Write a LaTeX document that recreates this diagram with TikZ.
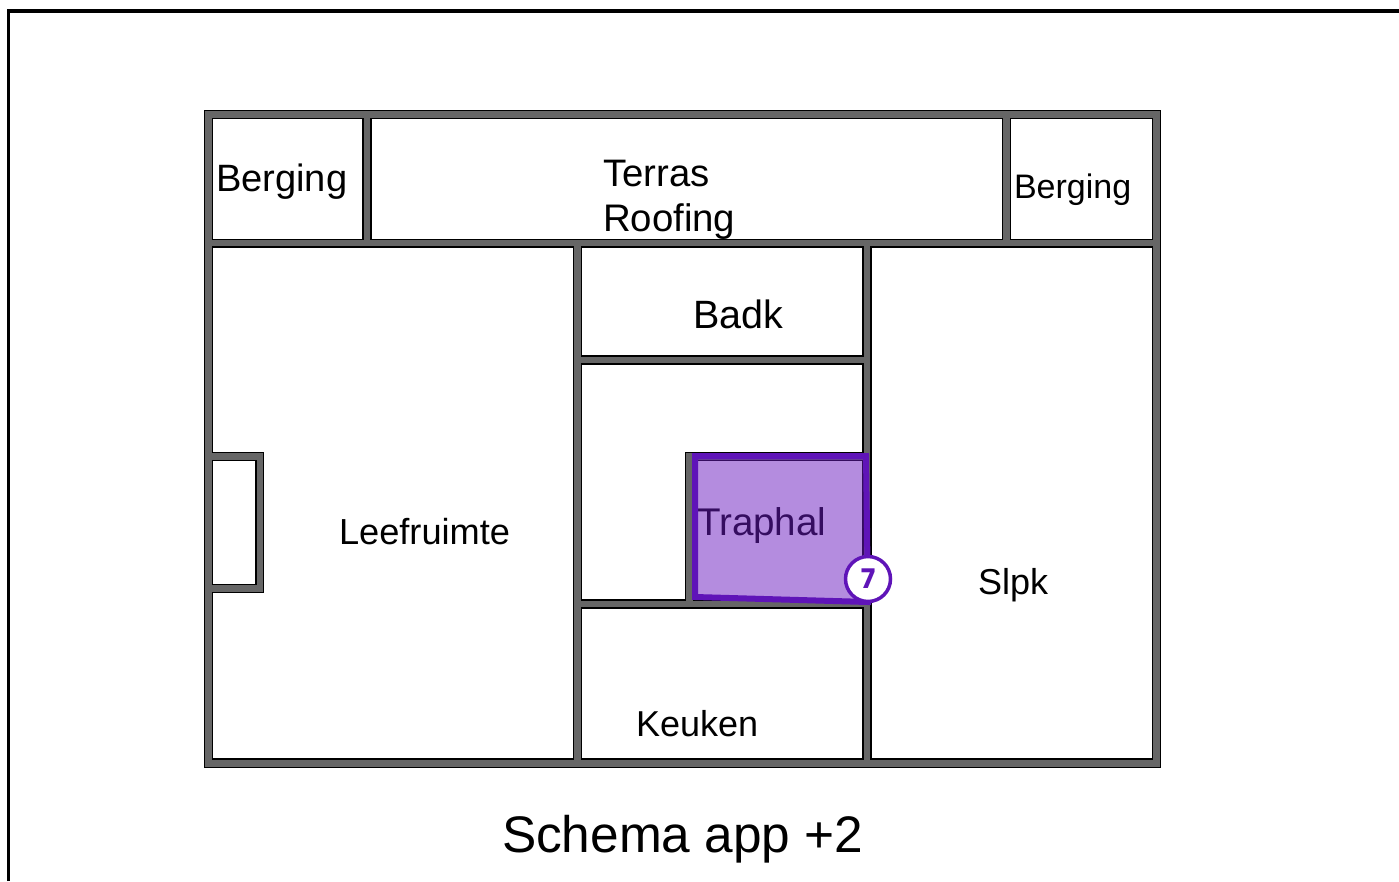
\documentclass[tikz,border=0pt]{standalone}
\usepackage{fontspec}
\setmainfont{Liberation Sans}
\newfontfamily\badgefont{Poppins}
\definecolor{wall}{HTML}{666666}
\definecolor{zone}{HTML}{6A1BC0}
\definecolor{zoneline}{HTML}{5F14B8}
\tikzset{
  wallmass/.style={fill=wall,draw=black,line width=1.1pt},
  room/.style={fill=white,draw=black,line width=1.1pt,line join=miter},
  lbl/.style={anchor=base west,inner sep=0pt,outer sep=0pt,text=black},
  zonearea/.style={fill=zone,fill opacity=0.5,draw=none},
  zoneedge/.style={draw=zoneline,line width=6pt,line join=miter},
  badge/.style={circle,fill=white,draw=zoneline,line width=3.5pt,minimum size=45pt,inner sep=0pt,text=zoneline,font=\fontsize{27}{27}\selectfont\badgefont\bfseries}
}
\begin{document}
\begin{tikzpicture}[x=1pt,y=-1pt]
\useasboundingbox (0,0) rectangle (1399,881);
\fill[white] (0,0) rectangle (1399,881);
\draw[black,line width=3.2pt] (8.5,881) -- (8.5,11) -- (1399,11);
% walls
\path[wallmass] (204.5,110.5) rectangle (1160.5,767.5);
% rooms
\path[room] (212.5,118.5) rectangle (363,239.5);
\path[room] (371,118.5) rectangle (1002.5,239.5);
\path[room] (1010.5,118.5) rectangle (1152.5,239.5);
\path[room] (212.5,247) -- (573.5,247) -- (573.5,759) -- (212.5,759) -- (212.5,592.5) -- (263.5,592.5) -- (263.5,452.5) -- (212.5,452.5) -- cycle;
\path[room] (212.5,460.5) rectangle (256,584.5);
\path[room] (581.5,247) rectangle (863,356);
\path[room] (581.5,364) -- (863,364) -- (863,452.5) -- (685.5,452.5) -- (685.5,600) -- (581.5,600) -- cycle;
\path[room] (693.5,460.5) rectangle (863,600);
\path[room] (581.5,608) rectangle (863,759);
\path[room] (871,247) rectangle (1152.5,759);
% labels
\node[lbl,font=\fontsize{38.1}{40}\selectfont] (b1) at (216,191) {Berging};
\node[lbl,font=\fontsize{38.3}{40}\selectfont] (t1) at (603,186.5) {Terras};
\node[lbl,font=\fontsize{38.4}{40}\selectfont] (t2) at (603,231) {Roofing};
\node[lbl,font=\fontsize{34}{36}\selectfont] (b2) at (1014,198) {Berging};
\node[lbl,font=\fontsize{39.5}{40}\selectfont] (ba) at (693,328) {Badk};
\node[lbl,font=\fontsize{36.2}{38}\selectfont] (le) at (339,544) {Leefruimte};
\node[lbl,font=\fontsize{38.6}{40}\selectfont] (tr) at (697,535) {Traphal};
\node[lbl,font=\fontsize{36}{38}\selectfont] (ke) at (636,736) {Keuken};
\node[lbl,font=\fontsize{36}{38}\selectfont] (sl) at (978,594) {Slpk};
\node[lbl,font=\fontsize{51.4}{54}\selectfont] (ti) at (502,852) {Schema app +2};
% highlight
\path[zonearea] (695,456) -- (866,456) -- (868,602) -- (695,597) -- cycle;
\path[zoneedge] (695,456) -- (866,456) -- (868,602) -- (695,597) -- cycle;
\node[badge] (n7) at (868,579) {7};
\end{tikzpicture}
\end{document}
